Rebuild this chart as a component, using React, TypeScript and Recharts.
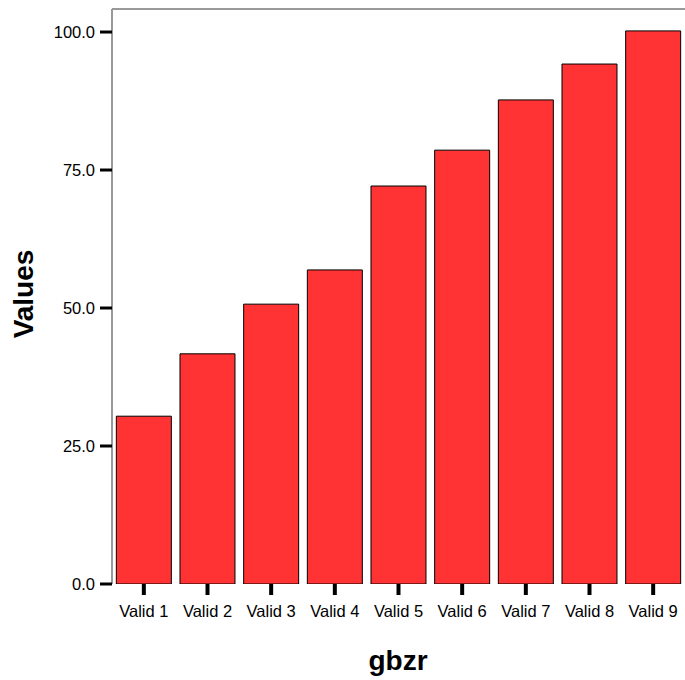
import React from 'react';
import { Bar, BarChart, ReferenceLine, XAxis, YAxis } from 'recharts';

const categories = ['Valid 1', 'Valid 2', 'Valid 3', 'Valid 4', 'Valid 5', 'Valid 6', 'Valid 7', 'Valid 8', 'Valid 9'];
const values = [30.4, 41.7, 50.7, 56.9, 72.1, 78.6, 87.7, 94.2, 100.2];
const yTicks = [0, 25, 50, 75, 100];
const yMax = 104.17;

const data = categories.map((name, i) => ({ name, value: values[i] }));

const FONT = '"Liberation Sans", Arial, sans-serif';

const App: React.FC = () => {
	return (
		<div style={{ position: 'absolute', left: 0, top: 0, width: 685, height: 680, background: '#fff', fontFamily: FONT }}>
			<BarChart
				width={685}
				height={680}
				data={data}
				margin={{ top: 9, right: 0, left: 0, bottom: 0 }}
				barCategoryGap="6.8%">
				<XAxis
					dataKey="name"
					height={96}
					axisLine={false}
					tickLine={{ stroke: '#000', strokeWidth: 4 }}
					tickSize={11}
					tickMargin={10}
					interval={0}
					tick={{ fontSize: 16.5, fill: '#000', fontFamily: FONT }}
					label={{
						content: () => (
							<text x={398} y={670} textAnchor="middle" fontSize={28} fontWeight="bold" fontFamily={FONT} fill="#000">
								gbzr
							</text>
						),
					}}
				/>
				<YAxis
					width={112}
					domain={[0, yMax]}
					ticks={yTicks}
					allowDataOverflow
					axisLine={{ stroke: '#999', strokeWidth: 2 }}
					tickLine={{ stroke: '#000', strokeWidth: 3 }}
					tickSize={12}
					tickMargin={5}
					tickFormatter={(v: number) => v.toFixed(1)}
					tick={{ fontSize: 16.5, fill: '#000', fontFamily: FONT }}
					label={{
						content: () => (
							<text
								x={33}
								y={294}
								transform="rotate(-90 33 294)"
								textAnchor="middle"
								fontSize={28}
								fontWeight="bold"
								fontFamily={FONT}
								fill="#000">
								Values
							</text>
						),
					}}
				/>
				<ReferenceLine y={yMax} stroke="#999" strokeWidth={2} />
				<Bar dataKey="value" fill="#ff3333" stroke="#000" strokeWidth={1} isAnimationActive={false} />
			</BarChart>
		</div>
	);
};

export default App;
